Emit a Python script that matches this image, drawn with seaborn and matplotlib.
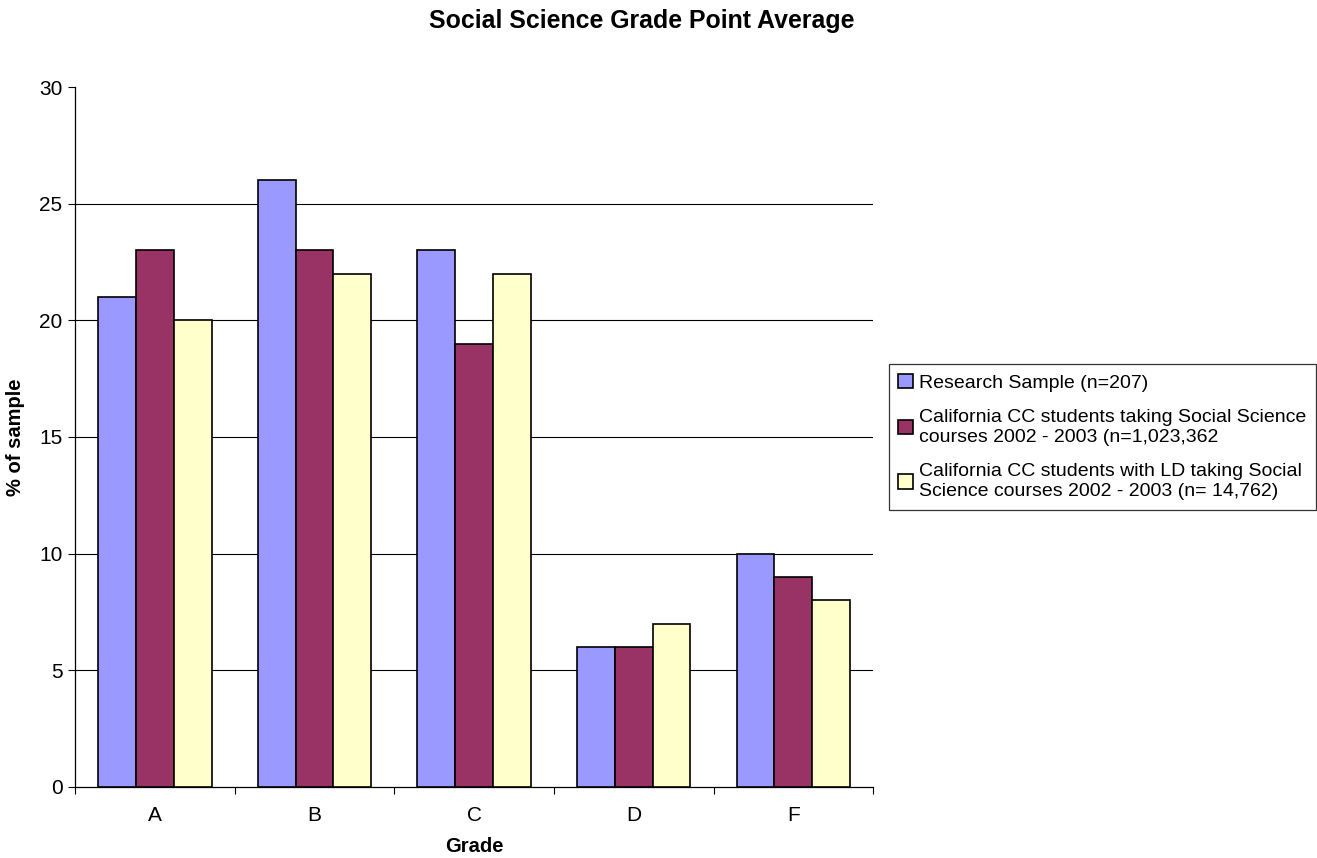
import numpy as np
import pandas as pd
import matplotlib
matplotlib.use('Agg')
import matplotlib.pyplot as plt
import seaborn as sns

# data
grades = ['A', 'B', 'C', 'D', 'F']
research_sample = [21, 26, 23, 6, 10]
cc_students = [23, 23, 19, 6, 9]
cc_students_ld = [20, 22, 22, 7, 8]
series_names = [
    'Research Sample (n=207)',
    'California CC students taking Social Science\ncourses 2002 - 2003 (n=1,023,362',
    'California CC students with LD taking Social\nScience courses 2002 - 2003 (n= 14,762)',
]
y_ticks = [0, 5, 10, 15, 20, 25, 30]

df = pd.DataFrame({
    'Grade': grades * 3,
    'value': research_sample + cc_students + cc_students_ld,
    'series': [s for s in series_names for _ in grades],
})

sns.set_style('white')
plt.rcParams['font.family'] = ['Liberation Sans', 'DejaVu Sans']
plt.rcParams['text.color'] = 'black'
plt.rcParams['axes.labelcolor'] = 'black'
plt.rcParams['xtick.color'] = 'black'
plt.rcParams['ytick.color'] = 'black'

fig = plt.figure(figsize=(13.17, 8.58), dpi=100)
ax = fig.add_axes([0.057, 0.0828, 0.606, 0.8158])

palette = ['#9999FF', '#993366', '#FFFFCC']
sns.barplot(data=df, x='Grade', y='value', hue='series', palette=palette,
            width=0.71, edgecolor='black', linewidth=1.2, saturation=1,
            ax=ax, zorder=3)

# gridlines (none at the top edge)
for t in y_ticks[1:-1]:
    ax.axhline(t, color='black', linewidth=0.8, zorder=1)

ax.set_xlim(-0.5, len(grades) - 0.5)
ax.set_ylim(0, 30)
ax.set_yticks(y_ticks)
ax.tick_params(axis='y', labelsize=15, length=5, width=0.8, direction='out', left=True, pad=4)
ax.set_xticks(np.arange(len(grades)))
ax.set_xticklabels(grades, fontsize=15)
ax.tick_params(axis='x', length=0, pad=14)
# category boundary ticks
ax.set_xticks(np.arange(len(grades) + 1) - 0.5, minor=True)
ax.tick_params(axis='x', which='minor', length=5, width=0.8, direction='out', bottom=True)

for side in ['top', 'right']:
    ax.spines[side].set_visible(False)
for side in ['left', 'bottom']:
    ax.spines[side].set_color('black')
    ax.spines[side].set_linewidth(0.9)

ax.set_xlabel('Grade', fontsize=14.5, fontweight='bold', labelpad=8)
ax.set_ylabel('% of sample', fontsize=14.5, fontweight='bold', labelpad=10)

fig.suptitle('Social Science Grade Point Average', fontsize=17.9, fontweight='bold',
             x=0.4875, y=0.99)

leg = ax.legend(loc='center left', bbox_to_anchor=(1.0195, 0.5), fontsize=14,
                frameon=True, fancybox=False, edgecolor='black', handlelength=0.75,
                handleheight=0.75, handletextpad=0.3, labelspacing=0.9, borderpad=0.5,
                borderaxespad=0)
leg.get_frame().set_linewidth(0.9)

fig.savefig('out.png', dpi=100)
